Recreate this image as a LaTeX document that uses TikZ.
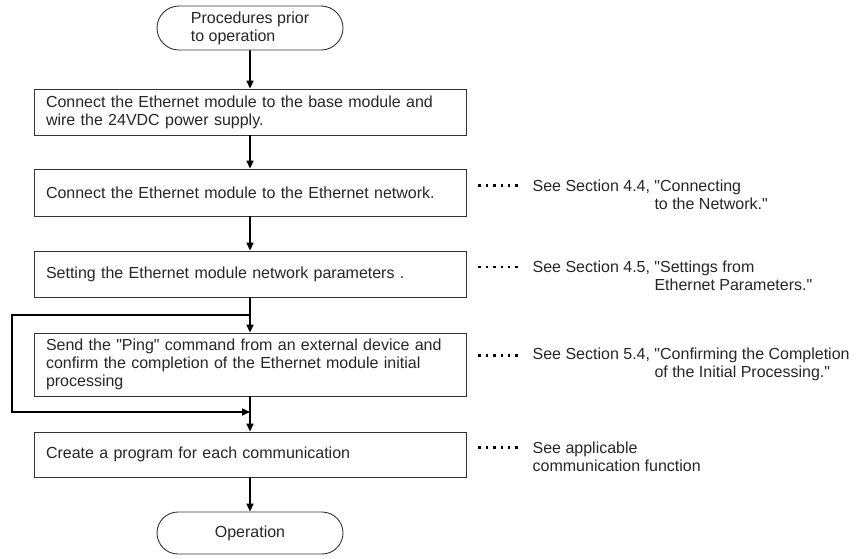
\documentclass[tikz,border=0pt]{standalone}
\usepackage{fontspec}
\newfontfamily\arialfont{Liberation Sans}
\usetikzlibrary{arrows.meta,shapes.misc}

\begin{document}
\begin{tikzpicture}[x=1pt,y=-1pt,
  font=\arialfont\fontsize{16}{18}\selectfont,
  every node/.style={text=black!85},
  stepbox/.style={draw=black!80,line width=0.9pt,minimum width=432pt,text width=408pt,
    align=left,inner xsep=12pt,inner ysep=0pt},
  term/.style={draw=black!80,line width=0.9pt,rounded rectangle,minimum width=186pt,
    inner sep=0pt,align=left},
  flow/.style={line width=1.6pt,-{Triangle[length=8pt,width=7pt]}},
  dots/.style={line width=2.4pt,dash pattern=on 2.4pt off 5pt},
  note/.style={anchor=west,align=left,inner sep=0pt}]
\useasboundingbox (0,0) rectangle (864,558);

\node[term,minimum height=44pt] (start) at (250,28) {Procedures prior\\to operation};
\node[stepbox,minimum height=46pt] (wire) at (250,112)
  {Connect the Ethernet module to the base module and\\wire the 24VDC power supply.};
\node[stepbox,minimum height=47pt] (network) at (250,192.5)
  {Connect the Ethernet module to the Ethernet network.};
\node[stepbox,minimum height=46pt] (params) at (250,274)
  {Setting the Ethernet module network parameters .};
\node[stepbox,minimum height=63pt] (ping) at (250,364.5)
  {Send the "Ping" command from an external device and\\confirm the completion of the Ethernet module initial\\processing};
\node[stepbox,minimum height=45pt] (program) at (250,454.5)
  {Create a program for each communication};
\node[term,minimum height=42pt] (operation) at (250,533) {Operation};

\node[note] (note44) at ([shift={(66,2)}]network.east)
  {See Section 4.4, "Connecting\\\hphantom{See Section 4.4, }to the Network."};
\node[note] (note45) at ([shift={(66,2)}]params.east)
  {See Section 4.5, "Settings from\\\hphantom{See Section 4.5, }Ethernet Parameters."};
\node[note] (note54) at ([shift={(66,0)}]ping.east)
  {See Section 5.4, "Confirming the Completion\\\hphantom{See Section 5.4, }of the Initial Processing."};
\node[note] (noteapp) at ([shift={(66,2)}]program.east)
  {See applicable\\communication function};

\coordinate (split) at (250,315);
\coordinate (merge) at (250,412);

\draw[flow] (start) -- (wire);
\draw[flow] (wire) -- (network);
\draw[flow] (network) -- (params);
\draw[flow] (params) -- (ping);
\draw[flow] (ping) -- (program);
\draw[flow] (program) -- (operation);
\draw[flow] (split) -- ++(-238,0) |- (merge);

\draw[dots] (network.east) ++(12,-7) -- ++(40,0);
\draw[dots] (params.east) ++(12,-7) -- ++(40,0);
\draw[dots] (ping.east) ++(12,-9) -- ++(40,0);
\draw[dots] (program.east) ++(12,-7) -- ++(40,0);
\end{tikzpicture}
\end{document}
